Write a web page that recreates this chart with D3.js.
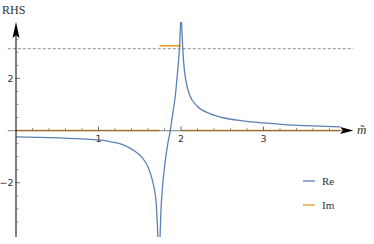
<!DOCTYPE html>
<html lang="en">
<head>
<meta charset="utf-8">
<script src="https://d3js.org/d3.v7.min.js"></script>
<style>
  body { margin: 0; background: #fff; }
  svg { display: block; }
  .serif { font-family: "Times New Roman", "Liberation Serif", Times, serif; }
  .sans { font-family: "DejaVu Sans", sans-serif; }
</style>
</head>
<body>
<div id="chart"></div>
<script>
// Re branch left of the log singularity
var reLeftM = [0, 0.4, 0.8, 1.0, 1.15, 1.3, 1.42, 1.52, 1.6, 1.66, 1.7, 1.725];
var reLeftV = [-0.24, -0.27, -0.32, -0.36, -0.43, -0.55, -0.75, -1.0, -1.4, -2.0, -2.8, -4.5];
// Re branch between singularity and pole
var reMidM = [1.742, 1.755, 1.77, 1.8, 1.84, 1.87, 1.9, 1.93, 1.96, 1.98, 2.0];
var reMidV = [-4.5, -3.2, -2.4, -1.4, -0.5, 0, 0.65, 1.3, 2.3, 3.1, 4.5];
// Re branch right of the pole
var reRightM = [2.003, 2.01, 2.03, 2.06, 2.1, 2.2, 2.35, 2.5, 2.75, 3.0, 3.25, 3.5, 3.75, 3.93];
var reRightV = [4.5, 3.9, 2.7, 1.9, 1.4, 0.92, 0.65, 0.5, 0.37, 0.29, 0.23, 0.19, 0.16, 0.14];
// Im pieces
var imM = [[0, 1.74], [1.74, 2.0], [2.0, 3.93]];
var imV = [0, 3.25, 0];
var refLine = Math.PI;
var xTicksMajor = [1, 2, 3];
var yTicksMajor = [-2, 2];

var width = 374, height = 244;
var blue = "#5e81b5", orange = "#e19c24";

var svg = d3.select("#chart").append("svg")
  .attr("width", width).attr("height", height);

var x = d3.scaleLinear().domain([0, 4]).range([16, 346]);
var y = d3.scaleLinear().domain([-4.08, 4.16]).range([237, 22]);

svg.append("defs").append("clipPath").attr("id", "plot")
  .append("rect")
  .attr("x", x(0)).attr("y", y(4.16))
  .attr("width", x(4) - x(0)).attr("height", y(-4.08) - y(4.16));

// dashed reference line
svg.append("line")
  .attr("x1", x(-0.1)).attr("x2", x(4.09))
  .attr("y1", y(refLine)).attr("y2", y(refLine))
  .attr("stroke", "#a3a3a3").attr("stroke-width", 1.3)
  .attr("stroke-dasharray", "3,2");

var line = d3.line().x(d => x(d[0])).y(d => y(d[1])).curve(d3.curveMonotoneX);

var g = svg.append("g").attr("clip-path", "url(#plot)");

// Im
imM.forEach(function (r, i) {
  g.append("path")
    .datum([[r[0], imV[i]], [r[1], imV[i]]])
    .attr("d", line)
    .attr("fill", "none").attr("stroke", orange).attr("stroke-width", 1.6);
});

// Re
[[reLeftM, reLeftV], [reMidM, reMidV], [reRightM, reRightV]].forEach(function (s) {
  g.append("path")
    .datum(s[0].map((m, i) => [m, s[1][i]]))
    .attr("d", line)
    .attr("fill", "none").attr("stroke", blue).attr("stroke-width", 1.3);
});

// axes
var ax = svg.append("g").attr("stroke", "#000");
ax.append("line")
  .attr("x1", x(-0.1)).attr("x2", x(3.95))
  .attr("y1", y(0)).attr("y2", y(0))
  .attr("stroke", "#555").attr("stroke-opacity", 0.6).attr("stroke-width", 1.2);
ax.append("line")
  .attr("x1", x(0)).attr("x2", x(0))
  .attr("y1", y(-4.08)).attr("y2", y(3.9))
  .attr("stroke-width", 1);

// arrowheads
var x0 = y(0);
svg.append("path")
  .attr("d", `M${x(4.09)},${x0} L${x(3.93)},${x0 - 3.5} L${x(3.96)},${x0} L${x(3.93)},${x0 + 3.5} Z`)
  .attr("fill", "#000");
var yx = x(0);
svg.append("path")
  .attr("d", `M${yx},${y(4.16)} L${yx - 3.5},${y(3.55)} L${yx},${y(3.65)} L${yx + 3.5},${y(3.55)} Z`)
  .attr("fill", "#000");

// x ticks
var xMinor = d3.range(1, 20).map(i => i * 0.2).filter(v => Math.abs(v - Math.round(v)) > 1e-6);
svg.append("g").selectAll("line").data(xMinor).enter().append("line")
  .attr("x1", d => x(d)).attr("x2", d => x(d))
  .attr("y1", y(0)).attr("y2", y(0) - 2.5)
  .attr("stroke", "#666").attr("stroke-width", 0.7);
svg.append("g").selectAll("line").data(xTicksMajor).enter().append("line")
  .attr("x1", d => x(d)).attr("x2", d => x(d))
  .attr("y1", y(0)).attr("y2", y(0) - 4)
  .attr("stroke", "#444").attr("stroke-width", 0.8);
svg.append("g").selectAll("text").data(xTicksMajor).enter().append("text")
  .attr("class", "sans")
  .attr("x", d => x(d)).attr("y", y(0) + 11)
  .attr("text-anchor", "middle")
  .attr("font-size", 9.5)
  .attr("fill", "#333")
  .text(d => d);

// y ticks
var yMinor = d3.range(-8, 8).map(i => i * 0.5).filter(v => v !== 0 && v % 2 !== 0);
svg.append("g").selectAll("line").data(yMinor).enter().append("line")
  .attr("x1", x(0)).attr("x2", x(0) + 2.5)
  .attr("y1", d => y(d)).attr("y2", d => y(d))
  .attr("stroke", "#666").attr("stroke-width", 0.7);
svg.append("g").selectAll("line").data(yTicksMajor).enter().append("line")
  .attr("x1", x(0)).attr("x2", x(0) + 4)
  .attr("y1", d => y(d)).attr("y2", d => y(d))
  .attr("stroke", "#444").attr("stroke-width", 0.8);
svg.append("g").selectAll("text").data(yTicksMajor).enter().append("text")
  .attr("class", "sans")
  .attr("x", x(0) - 2.5).attr("y", d => y(d) + 3.5)
  .attr("text-anchor", "end")
  .attr("font-size", 9.5)
  .attr("fill", "#333")
  .text(d => d < 0 ? "\u2212" + (-d) : d);

// axis labels
svg.append("text")
  .attr("class", "serif")
  .attr("x", 2).attr("y", 14)
  .attr("font-size", 12)
  .attr("fill", "#333")
  .text("RHS");
svg.append("text")
  .attr("class", "serif")
  .attr("x", 357).attr("y", 134)
  .attr("font-size", 13)
  .attr("font-style", "italic").attr("fill", "#333")
  .text("m\u0303");

// legend
var legend = [["Re", blue], ["Im", orange]];
var lg = svg.append("g").selectAll("g").data(legend).enter().append("g")
  .attr("transform", (d, i) => `translate(303,${181 + i * 24})`);
lg.append("line").attr("x1", 0).attr("x2", 12).attr("y1", 0).attr("y2", 0)
  .attr("stroke", d => d[1]).attr("stroke-width", 1.3);
lg.append("text")
  .attr("class", "serif")
  .attr("x", 19).attr("y", 3.5)
  .attr("font-size", 11)
  .attr("fill", "#333")
  .text(d => d[0]);
</script>
</body>
</html>
